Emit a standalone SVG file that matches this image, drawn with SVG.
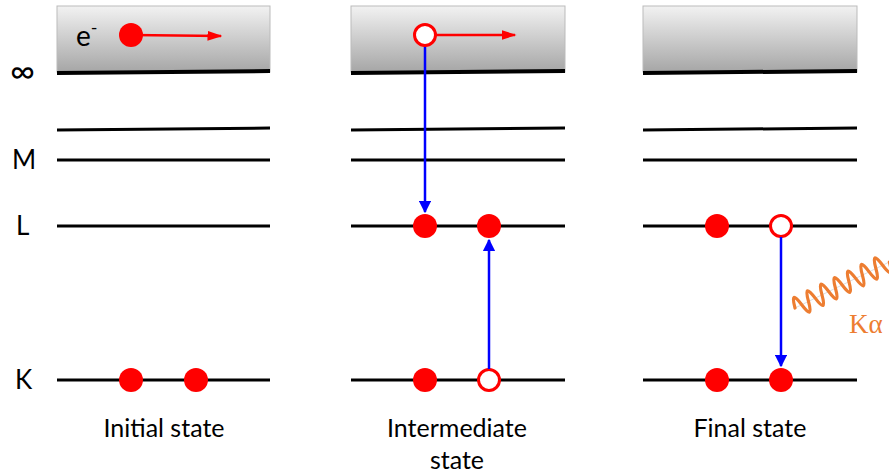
<svg xmlns="http://www.w3.org/2000/svg" width="889" height="475" viewBox="0 0 889 475">
  <defs>
    <linearGradient id="vac" x1="0" y1="0" x2="0" y2="1">
      <stop offset="0" stop-color="#f2f2f2"/>
      <stop offset="1" stop-color="#a6a6a6"/>
    </linearGradient>
    <marker id="redHead" viewBox="0 0 10 10" refX="9" refY="5" markerWidth="15" markerHeight="10" orient="auto" markerUnits="userSpaceOnUse" preserveAspectRatio="none">
      <path d="M0,0 L10,5 L0,10 z" fill="#ff0000"/>
    </marker>
    <marker id="blueHead" viewBox="0 0 10 10" refX="9" refY="5" markerWidth="5" markerHeight="5" orient="auto">
      <path d="M0,0 L10,5 L0,10 z" fill="#0000ff"/>
    </marker>
  </defs>
  <style>
    .box { fill: url(#vac); stroke: #bbbbbb; stroke-width: 1; }
    .edge { stroke: #000; stroke-width: 4; }
    .lvl { stroke: #000; stroke-width: 3; }
    .full { fill: #ff0000; }
    .hole { fill: #fff; stroke: #ff0000; stroke-width: 3; }
    .move { stroke: #ff0000; stroke-width: 2.5; fill: none; }
    .jump { stroke: #0000ff; stroke-width: 2.5; fill: none; }
    .lbl { font-family: Lato, "Open Sans", sans-serif; font-size: 26px; fill: #000; }
    .cap { font-family: Lato, "Open Sans", sans-serif; font-size: 25px; fill: #000; text-anchor: middle; }
  </style>
  <rect width="889" height="475" fill="#fff"/>

  <!-- shell labels -->
  <g id="shell-labels">
    <text class="lbl" x="10" y="83" style="font-size:34px">∞</text>
    <text class="lbl" x="12" y="169">M</text>
    <text class="lbl" x="16" y="235">L</text>
    <text class="lbl" x="15" y="389">K</text>
  </g>

  <!-- panel 1: initial state -->
  <g id="panel-initial">
    <rect class="box" x="57" y="6" width="213" height="66"/>
    <line class="edge" x1="57" y1="73" x2="270" y2="71"/>
    <line class="lvl" x1="57" y1="130" x2="270" y2="128"/>
    <line class="lvl" x1="57" y1="160" x2="270" y2="160"/>
    <line class="lvl" x1="57" y1="226" x2="270" y2="226"/>
    <line class="lvl" x1="57" y1="380" x2="270" y2="380"/>
    <text class="lbl" x="76" y="46" style="font-size:28px">e<tspan dy="-12" font-size="18">-</tspan></text>
    <line class="move" x1="131" y1="35" x2="221" y2="36" marker-end="url(#redHead)"/>
    <circle class="full" cx="131" cy="35" r="12"/>
    <circle class="full" cx="131" cy="380" r="12"/>
    <circle class="full" cx="196" cy="380" r="12"/>
    <text class="cap" x="164" y="437">Initial state</text>
  </g>

  <!-- panel 2: intermediate state -->
  <g id="panel-intermediate">
    <rect class="box" x="351" y="6" width="214" height="66"/>
    <line class="edge" x1="351" y1="73" x2="565" y2="71"/>
    <line class="lvl" x1="351" y1="130" x2="565" y2="128"/>
    <line class="lvl" x1="351" y1="160" x2="565" y2="160"/>
    <line class="lvl" x1="351" y1="226" x2="565" y2="226"/>
    <line class="lvl" x1="351" y1="380" x2="565" y2="380"/>
    <line class="move" x1="436" y1="35" x2="515" y2="35" marker-end="url(#redHead)"/>
    <circle class="full" cx="425" cy="226" r="12"/>
    <circle class="full" cx="489" cy="226" r="12"/>
    <circle class="full" cx="425" cy="380" r="12"/>
    <circle class="hole" cx="489" cy="380" r="10.5"/>
    <text class="cap" x="457" y="437">Intermediate</text>
    <text class="cap" x="457" y="469">state</text>
  </g>

  <!-- panel 3: final state -->
  <g id="panel-final">
    <rect class="box" x="643" y="6" width="214" height="66"/>
    <line class="edge" x1="643" y1="73" x2="857" y2="71"/>
    <line class="lvl" x1="643" y1="130" x2="857" y2="128"/>
    <line class="lvl" x1="643" y1="160" x2="857" y2="160"/>
    <line class="lvl" x1="643" y1="226" x2="857" y2="226"/>
    <line class="lvl" x1="643" y1="380" x2="857" y2="380"/>
    <circle class="full" cx="717" cy="226" r="12"/>
    <circle class="hole" cx="781" cy="226" r="10.5"/>
    <circle class="full" cx="717" cy="380" r="12"/>
    <circle class="full" cx="781" cy="380" r="12"/>
    <text class="cap" x="750" y="437">Final state</text>
  </g>

  <!-- transitions -->
  <g id="connectors">
    <line class="jump" x1="425" y1="46" x2="425" y2="212" marker-end="url(#blueHead)"/>
    <line class="jump" x1="489" y1="369" x2="489" y2="240" marker-end="url(#blueHead)"/>
    <line class="jump" x1="781" y1="237" x2="781" y2="366" marker-end="url(#blueHead)"/>
  </g>

  <!-- hole left by the ejected electron, drawn over the blue line -->
  <g id="ejected-hole">
    <circle class="hole" cx="425" cy="35" r="10.5"/>
  </g>

  <!-- emitted K-alpha photon -->
  <g id="photon">
    <g transform="translate(795,308) rotate(-26)">
      <line x1="0" y1="0" x2="106" y2="0" stroke="#cccccc" stroke-width="0.6"/>
      <path d="M0,0 q3.75,-20 7.5,0 t7.5,0 t7.5,0 t7.5,0 t7.5,0 t7.5,0 t7.5,0 t7.5,0 t7.5,0 t7.5,0 t7.5,0 t7.5,0 t7.5,0 t7.5,0" fill="none" stroke="#ed7d31" stroke-width="3.2" stroke-linecap="round"/>
    </g>
    <text x="849" y="333" font-family="'Liberation Serif', serif" font-size="27" fill="#ed7d31">Kα</text>
  </g>
</svg>
